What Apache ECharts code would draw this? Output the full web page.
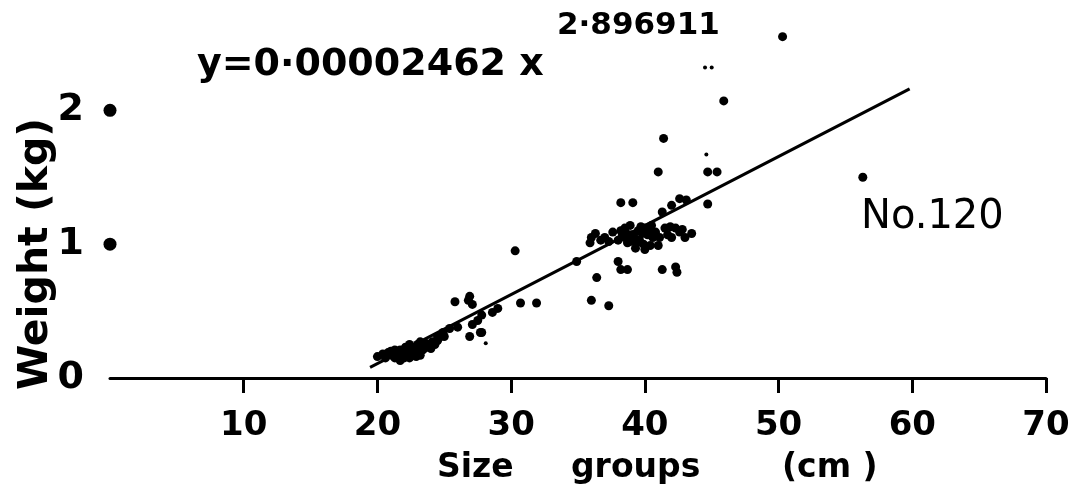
<!DOCTYPE html>
<html>
<head>
<meta charset="utf-8">
<script src="https://cdn.jsdelivr.net/npm/echarts@6/dist/echarts.min.js"></script>
<style>
  html, body { margin: 0; padding: 0; background: #fff; }
  #chart { width: 1078px; height: 492px; }
</style>
</head>
<body>
<div id="chart"></div>
<script>
// size group (cm) and weight (kg) of each fish
const sizes = [
  20.0, 20.4, 20.8, 21.1, 21.3, 21.7, 21.9, 22.1, 22.4, 22.7, 22.8, 23.0, 23.2, 23.4, 23.6, 23.8, 23.9, 24.1, 22.4, 21.7, 21.3, 23.2, 24.5,
  21.0, 21.5, 22.0, 22.3, 22.6, 23.0, 23.5, 24.0, 22.9, 22.0, 20.6, 24.6, 25.0,
  24.3, 24.5, 24.9, 25.4, 26.0, 25.8, 26.9, 26.8, 27.1, 27.5, 27.8, 28.6, 29.0, 27.1, 27.7, 26.9, 27.8, 30.7, 31.9, 30.3,
  34.9, 35.9, 36.3, 36.7, 37.0, 37.6, 38.0, 38.2, 38.5, 38.5, 38.9, 39.0, 39.5, 39.6, 40.0, 40.2, 40.4, 39.3, 38.7, 40.8,
  41.1, 41.0, 41.5, 41.9, 42.0, 42.6, 43.0, 43.5, 40.0, 40.5, 41.3, 42.0, 42.6, 43.1, 38.0, 38.2, 38.7, 41.3, 42.3, 42.4,
  38.6, 39.2, 39.8, 40.3, 39.4, 39.9, 38.9, 40.6, 39.7, 38.3, 41.7, 42.3, 42.8, 37.3, 36.0,
  36.4, 36.0, 37.3,
  38.2, 39.1, 44.7, 41.0, 44.7, 45.4, 41.4, 45.9, 50.3, 56.3
];
const weights = [
  0.16, 0.18, 0.19, 0.17, 0.21, 0.21, 0.17, 0.23, 0.25, 0.19, 0.22, 0.25, 0.17, 0.21, 0.26, 0.23, 0.25, 0.27, 0.15, 0.13, 0.15, 0.27, 0.28,
  0.20, 0.18, 0.20, 0.18, 0.22, 0.20, 0.24, 0.22, 0.16, 0.15, 0.15, 0.30, 0.31,
  0.25, 0.31, 0.34, 0.37, 0.38, 0.57, 0.61, 0.58, 0.55, 0.43, 0.47, 0.49, 0.52, 0.40, 0.34, 0.31, 0.34, 0.56, 0.56, 0.95,
  0.87, 1.01, 1.08, 1.03, 1.05, 1.09, 1.03, 1.10, 1.12, 1.05, 1.14, 1.07, 1.10, 1.03, 1.12, 1.07, 0.99, 0.97, 1.01, 1.09,
  1.05, 0.99, 1.12, 1.13, 1.05, 1.09, 1.05, 1.08, 0.96, 1.14, 1.24, 1.29, 1.34, 1.33, 0.87, 0.81, 0.81, 0.81, 0.83, 0.79,
  1.08, 1.05, 1.08, 1.10, 1.01, 1.00, 1.02, 1.05, 1.13, 1.06, 1.07, 1.12, 1.11, 1.02, 1.05,
  0.75, 0.58, 0.54,
  1.31, 1.31, 1.30, 1.54, 1.54, 1.54, 1.79, 2.07, 2.55, 1.50
];
// faint small marks
const smallSizes = [44.5, 45.0, 44.6, 28.1];
const smallWeights = [2.32, 2.32, 1.67, 0.26];

// fitted curve as drawn (straight segment)
const fitSizes = [19.45, 59.8];
const fitWeights = [0.08, 2.16];

const yTickValues = [0, 1, 2];
const yTickDots = [1, 2];

const FONT = 'DejaVu Sans';

const pts = (xs, ys) => xs.map((x, i) => [x, ys[i]]);

const chart = echarts.init(document.getElementById('chart'));

chart.setOption({
  backgroundColor: '#fff',
  animation: false,
  grid: { left: 110, right: 32, top: 30, bottom: 114 },
  xAxis: {
    type: 'value',
    min: 0,
    max: 70,
    interval: 10,
    axisLine: { show: true, lineStyle: { color: '#000', width: 3 } },
    axisTick: { show: true, inside: false, length: 15, lineStyle: { color: '#000', width: 3 } },
    axisLabel: {
      showMinLabel: false,
      margin: 31,
      color: '#000',
      fontFamily: FONT,
      fontWeight: 'bold',
      fontSize: 34
    },
    splitLine: { show: false }
  },
  yAxis: {
    type: 'value',
    min: 0,
    max: 2.6,
    interval: 1,
    axisLine: { show: false },
    axisTick: { show: false },
    axisLabel: {
      margin: 26,
      color: '#000',
      fontFamily: FONT,
      fontWeight: 'bold',
      fontSize: 38,
      formatter: v => (yTickValues.includes(v) ? String(v) : '')
    },
    splitLine: { show: false }
  },
  graphic: [
    {
      type: 'text', left: 197, top: 46,
      style: { text: 'y=0·00002462 x', fill: '#000', font: 'bold 38px "DejaVu Sans"' }
    },
    {
      type: 'text', left: 557, top: 10,
      style: { text: '2·896911', fill: '#000', font: 'bold 31px "DejaVu Sans"' }
    },
    {
      type: 'text', left: 861, top: 198,
      style: { text: 'No.120', fill: '#000', font: '40px "DejaVu Sans"' }
    },
    {
      type: 'text', x: 36, y: 254, rotation: Math.PI / 2,
      style: {
        text: 'Weight (kg)', fill: '#000', font: 'bold 41px "DejaVu Sans"',
        align: 'center', verticalAlign: 'middle'
      }
    },
    {
      type: 'text', left: 437, top: 452,
      style: { text: 'Size', fill: '#000', font: 'bold 33px "DejaVu Sans"' }
    },
    {
      type: 'text', left: 571, top: 452,
      style: { text: 'groups', fill: '#000', font: 'bold 33px "DejaVu Sans"' }
    },
    {
      type: 'text', left: 782, top: 452,
      style: { text: '(cm )', fill: '#000', font: 'bold 33px "DejaVu Sans"' }
    }
  ],
  series: [
    {
      name: 'fit',
      type: 'line',
      data: pts(fitSizes, fitWeights),
      showSymbol: false,
      lineStyle: { color: '#000', width: 3 }
    },
    {
      name: 'fish',
      type: 'scatter',
      data: pts(sizes, weights),
      symbolSize: 9,
      itemStyle: { color: '#000', opacity: 1 }
    },
    {
      name: 'specks',
      type: 'scatter',
      data: pts(smallSizes, smallWeights),
      symbolSize: 4,
      itemStyle: { color: '#000', opacity: 1 }
    },
    {
      name: 'y ticks',
      type: 'scatter',
      data: yTickDots.map(v => [0, v]),
      symbolSize: 13,
      clip: false,
      itemStyle: { color: '#000', opacity: 1 }
    }
  ]
});
</script>
</body>
</html>
